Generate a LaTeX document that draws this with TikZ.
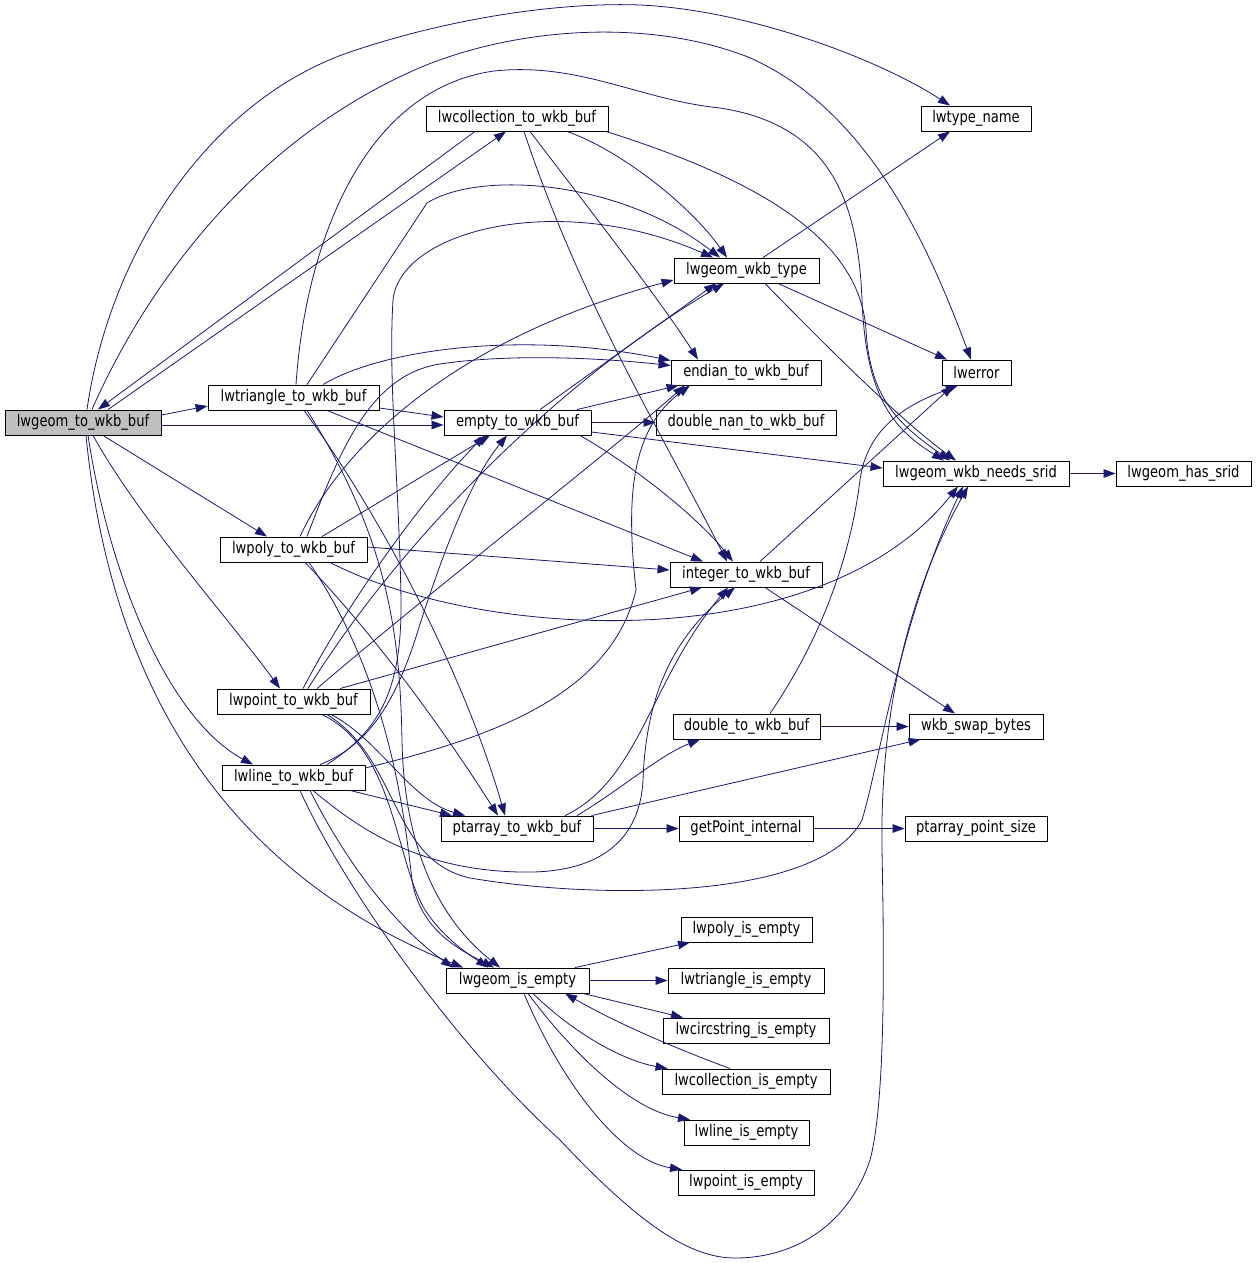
\documentclass[tikz,border=0pt]{standalone}
\usepackage{fontspec}
\usepackage{tikz}
\usepackage{xcolor}
\usetikzlibrary{arrows.meta}
\newfontfamily\graphfont{DejaVu Sans}[FakeStretch=0.82]
\definecolor{edgeblue}{HTML}{191970}
\definecolor{rootgray}{HTML}{BFBFBF}
\tikzset{
    fn-box/.style = {draw=black, fill=white, line width=0.9pt, rectangle, inner sep=0pt, minimum height=25pt, font=\graphfont\fontsize{16}{18}\selectfont},
    fn-box-root/.style = {fn-box, fill=rootgray},
    call/.style = {draw=edgeblue, line width=0.8pt, -{Triangle[length=12pt, width=8.5pt]}},
}
\begin{document}
\begin{tikzpicture}[x=1pt, y=-1pt]
\fill[white] (0,0) rectangle (1257,1263);
\useasboundingbox (0,0) rectangle (1257,1263);
% functions, one column per rank
\node[fn-box-root, minimum width=156pt] (towkb) at (83,422.5) {lwgeom\_to\_wkb\_buf};
\node[fn-box, minimum width=171pt] (tritowkb) at (293.5,397.5) {lwtriangle\_to\_wkb\_buf};
\node[fn-box, minimum width=147pt] (polytowkb) at (293.5,549.5) {lwpoly\_to\_wkb\_buf};
\node[fn-box, minimum width=153pt] (pointtowkb) at (293.5,701.5) {lwpoint\_to\_wkb\_buf};
\node[fn-box, minimum width=143pt] (linetowkb) at (293.5,777.5) {lwline\_to\_wkb\_buf};
\node[fn-box, minimum width=182pt] (colltowkb) at (517,118.5) {lwcollection\_to\_wkb\_buf};
\node[fn-box, minimum width=147pt] (emptytowkb) at (517.5,422.5) {empty\_to\_wkb\_buf};
\node[fn-box, minimum width=152pt] (ptarray) at (517,828.5) {ptarray\_to\_wkb\_buf};
\node[fn-box, minimum width=143pt] (isempty) at (517.5,980.5) {lwgeom\_is\_empty};
\node[fn-box, minimum width=145pt] (wkbtype) at (746.5,270.5) {lwgeom\_wkb\_type};
\node[fn-box, minimum width=150pt] (endian) at (746,372.5) {endian\_to\_wkb\_buf};
\node[fn-box, minimum width=180pt] (dblnan) at (746,422.5) {double\_nan\_to\_wkb\_buf};
\node[fn-box, minimum width=152pt] (inttowkb) at (746,574.5) {integer\_to\_wkb\_buf};
\node[fn-box, minimum width=147pt] (dbltowkb) at (746.5,726.5) {double\_to\_wkb\_buf};
\node[fn-box, minimum width=134pt] (getpoint) at (746,828.5) {getPoint\_internal};
\node[fn-box, minimum width=131pt] (polyempty) at (746.5,929.5) {lwpoly\_is\_empty};
\node[fn-box, minimum width=156pt] (triempty) at (746,980.5) {lwtriangle\_is\_empty};
\node[fn-box, minimum width=166pt] (circempty) at (746,1030.5) {lwcircstring\_is\_empty};
\node[fn-box, minimum width=168pt] (collempty) at (746,1081.5) {lwcollection\_is\_empty};
\node[fn-box, minimum width=125pt] (lineempty) at (746.5,1132.5) {lwline\_is\_empty};
\node[fn-box, minimum width=136pt] (pointempty) at (746,1182.5) {lwpoint\_is\_empty};
\node[fn-box, minimum width=110pt] (typename) at (976,118.5) {lwtype\_name};
\node[fn-box, minimum width=69pt] (lwerr) at (976.5,372.5) {lwerror};
\node[fn-box, minimum width=186pt] (needssrid) at (976,473.5) {lwgeom\_wkb\_needs\_srid};
\node[fn-box, minimum width=134pt] (swapbytes) at (976,726.5) {wkb\_swap\_bytes};
\node[fn-box, minimum width=142pt] (ptsize) at (976,828.5) {ptarray\_point\_size};
\node[fn-box, minimum width=135pt] (hassrid) at (1183.5,473.5) {lwgeom\_has\_srid};

% calls from lwgeom_to_wkb_buf
\draw[call] ([xshift=4pt]towkb.north) .. controls (110,250) and (210,100) .. (350,52) .. controls (450,18) and (560,2) .. (640,5) .. controls (750,10) and (880,60) .. ([xshift=-26pt]typename.north);
\draw[call] ([xshift=9pt]towkb.north) .. controls (140,300) and (240,150) .. (408,73) .. controls (500,30) and (640,15) .. (748,57) .. controls (870,110) and (930,250) .. ([xshift=-5.5pt]lwerr.north);
\draw[call] ([xshift=25pt]towkb.north) -- ([xshift=-11pt]colltowkb.south);
\draw[call] ([xshift=-42pt]colltowkb.south) -- ([xshift=15pt]towkb.north);
\draw[call] ([yshift=7.5pt]towkb.east) -- ([yshift=-8.5pt]tritowkb.west);
\draw[call] ([yshift=-2.5pt]towkb.east) -- ([yshift=-2.5pt]emptytowkb.west);
\draw[call] ([xshift=20pt]towkb.south) -- ([xshift=-26.5pt]polytowkb.north);
\draw[call] ([xshift=10pt]towkb.south) .. controls (140,520) and (230,620) .. ([xshift=-13.5pt]pointtowkb.north);
\draw[call] ([xshift=5pt]towkb.south) .. controls (110,580) and (170,720) .. ([xshift=-40.5pt]linetowkb.north);
\draw[call] ([xshift=3pt]towkb.south) .. controls (110,680) and (220,870) .. ([xshift=-54.5pt]isempty.north);

% lwcollection_to_wkb_buf
\draw[call] ([xshift=50pt]colltowkb.south) .. controls (620,150) and (690,205) .. ([xshift=-19.5pt]wkbtype.north);
\draw[call] ([xshift=13pt]colltowkb.south) .. controls (590,210) and (660,300) .. ([xshift=-48pt]endian.north);
\draw[call] ([xshift=7pt]colltowkb.south) .. controls (580,300) and (660,430) .. ([xshift=-19pt]inttowkb.north);
\draw[call] ([xshift=89pt]colltowkb.south) .. controls (760,180) and (860,240) .. (866,330) .. controls (870,400) and (900,425) .. ([xshift=-26pt]needssrid.north);

% lwtriangle_to_wkb_buf
\draw[call] ([xshift=2.5pt]tritowkb.north) .. controls (305,250) and (360,90) .. (494,71) .. controls (580,62) and (640,100) .. (720,108) .. controls (830,125) and (858,200) .. (862,300) .. controls (866,400) and (895,430) .. ([xshift=-32pt]needssrid.north);
\draw[call] ([xshift=13.5pt]tritowkb.north) -- (427,203) .. controls (480,170) and (620,180) .. ([xshift=-26.5pt]wkbtype.north);
\draw[call] ([xshift=29.5pt]tritowkb.north) .. controls (380,350) and (520,330) .. ([yshift=12pt]endian.west);
\draw[call] ([yshift=-10.5pt]tritowkb.east) -- ([yshift=5.5pt]emptytowkb.west);
\draw[call] ([xshift=33.5pt]tritowkb.south) -- ([xshift=-43pt]inttowkb.north);
\draw[call] ([xshift=10.5pt]tritowkb.south) .. controls (370,500) and (460,660) .. ([xshift=-12pt]ptarray.north);
\draw[call] ([xshift=13.5pt]tritowkb.south) .. controls (390,540) and (400,640) .. (402,740) .. controls (404,850) and (440,920) .. ([xshift=-17.5pt]isempty.north);

% lwpoly_to_wkb_buf
\draw[call] ([xshift=6.5pt]polytowkb.north) .. controls (340,450) and (450,340) .. ([yshift=-9.5pt]wkbtype.west);
\draw[call] ([xshift=13.5pt]polytowkb.north) .. controls (340,450) and (370,375) .. (440,364) .. controls (520,352) and (620,360) .. ([yshift=7pt]endian.west);
\draw[call] ([xshift=28.5pt]polytowkb.north) -- ([xshift=-27.5pt]emptytowkb.south);
\draw[call] ([yshift=2.5pt]polytowkb.east) -- ([yshift=4.5pt]inttowkb.west);
\draw[call] ([xshift=36.5pt]polytowkb.south) .. controls (480,640) and (820,660) .. ([xshift=-18pt]needssrid.south);
\draw[call] ([xshift=11.5pt]polytowkb.south) .. controls (380,640) and (450,740) .. ([xshift=-19pt]ptarray.north);
\draw[call] ([xshift=15.5pt]polytowkb.south) .. controls (390,680) and (405,820) .. (412,880) .. controls (420,930) and (460,950) .. ([xshift=-23.5pt]isempty.north);

% lwpoint_to_wkb_buf
\draw[call] ([xshift=9.5pt]pointtowkb.north) .. controls (360,580) and (440,480) .. ([xshift=-32.5pt]emptytowkb.south);
\draw[call] ([xshift=14.5pt]pointtowkb.north) .. controls (400,540) and (560,380) .. ([xshift=-22.5pt]wkbtype.south);
\draw[call] ([xshift=23.5pt]pointtowkb.north) .. controls (420,600) and (600,460) .. ([xshift=-61pt]endian.south);
\draw[call] ([xshift=46.5pt]pointtowkb.north) -- ([xshift=-44pt]inttowkb.south);
\draw[call] ([xshift=37.5pt]pointtowkb.south) .. controls (380,740) and (410,800) .. ([xshift=-52pt]ptarray.north);
\draw[call] ([xshift=28.5pt]pointtowkb.south) .. controls (395,750) and (395,860) .. (425,910) .. controls (445,940) and (470,955) .. ([xshift=-29.5pt]isempty.north);
\draw[call] ([xshift=33.5pt]pointtowkb.south) .. controls (400,760) and (390,860) .. (470,878) .. controls (600,900) and (820,900) .. (862,820) .. controls (880,760) and (900,620) .. ([xshift=-13pt]needssrid.south);

% lwline_to_wkb_buf
\draw[call] ([xshift=6.5pt]linetowkb.south) .. controls (340,880) and (450,1040) .. (560,1140) .. controls (640,1225) and (690,1258) .. (735,1258) .. controls (800,1258) and (850,1220) .. (870,1160) .. controls (886,1100) and (884,950) .. (882,850) .. controls (880,720) and (905,600) .. ([xshift=-8pt]needssrid.south);
\draw[call] ([xshift=26.5pt]linetowkb.north) .. controls (370,745) and (395,700) .. (415,640) .. controls (440,560) and (470,480) .. ([xshift=-10.5pt]emptytowkb.south);
\draw[call] ([xshift=33.5pt]linetowkb.north) .. controls (380,730) and (402,690) .. (401,600) .. controls (399,480) and (388,380) .. (393,300) .. controls (400,230) and (560,190) .. ([xshift=-33.5pt]wkbtype.north);
\draw[call] ([yshift=9.5pt]linetowkb.east) .. controls (480,740) and (610,700) .. (636,590) .. controls (626,500) and (630,430) .. ([xshift=-56pt]endian.south);
\draw[call] ([xshift=19.5pt]linetowkb.south) .. controls (360,830) and (420,870) .. (520,872) .. controls (600,874) and (640,840) .. (643,780) .. controls (646,700) and (670,640) .. ([xshift=-11pt]inttowkb.south);
\draw[call] ([xshift=56.5pt]linetowkb.south) -- ([xshift=-65pt]ptarray.north);
\draw[call] ([xshift=16.5pt]linetowkb.south) .. controls (350,870) and (400,930) .. ([xshift=-64.5pt]isempty.north);

% empty_to_wkb_buf
\draw[call] (emptytowkb.east) -- (dblnan.west);
\draw[call] ([xshift=59.5pt]emptytowkb.north) -- ([xshift=8pt]endian.south west);
\draw[call] ([xshift=22.5pt]emptytowkb.north) -- ([xshift=-30.5pt]wkbtype.south);
\draw[call] ([yshift=-9.5pt]emptytowkb.east) -- ([yshift=5.5pt]needssrid.west);
\draw[call] ([xshift=62.5pt]emptytowkb.south) .. controls (640,470) and (700,520) .. ([xshift=-13pt]inttowkb.north);

% helpers
\draw[call] ([xshift=16.5pt]wkbtype.north) -- ([xshift=-26pt]typename.south);
\draw[call] ([xshift=31.5pt]wkbtype.south) -- ([xshift=-29.5pt]lwerr.north);
\draw[call] ([xshift=18.5pt]wkbtype.south) .. controls (820,340) and (900,420) .. ([xshift=-20pt]needssrid.north);
\draw[call] (needssrid.east) -- (hassrid.west);
\draw[call] ([xshift=14pt]inttowkb.north) -- ([xshift=-23.5pt]lwerr.south);
\draw[call] ([xshift=19pt]inttowkb.south) -- ([xshift=-21pt]swapbytes.north);
\draw[call] ([xshift=23.5pt]dbltowkb.north) .. controls (820,640) and (850,560) .. (860,480) .. controls (868,420) and (920,400) .. ([xshift=-18.5pt]lwerr.south);
\draw[call] (dbltowkb.east) -- (swapbytes.west);
\draw[call] ([xshift=60pt]ptarray.north) .. controls (620,790) and (660,755) .. ([xshift=-46.5pt]dbltowkb.south);
\draw[call] ([xshift=-2pt]ptarray.north east) -- ([xshift=12pt]swapbytes.south west);
\draw[call] (ptarray.east) -- (getpoint.west);
\draw[call] ([xshift=48pt]ptarray.north) .. controls (640,780) and (650,680) .. ([xshift=-18pt]inttowkb.south);
\draw[call] (getpoint.east) -- (ptsize.west);

% lwgeom_is_empty
\draw[call] ([xshift=57.5pt]isempty.north) -- ([xshift=-56.5pt]polyempty.south);
\draw[call] (isempty.east) -- (triempty.west);
\draw[call] ([xshift=65.5pt]isempty.south) -- ([xshift=-63pt]circempty.north);
\draw[call] ([xshift=15.5pt]isempty.south) .. controls (570,1030) and (620,1060) .. ([xshift=6pt]collempty.north west);
\draw[call] ([xshift=-16pt]collempty.north) .. controls (680,1050) and (620,1025) .. ([xshift=47.5pt]isempty.south);
\draw[call] ([xshift=10.5pt]isempty.south) .. controls (570,1050) and (630,1110) .. ([xshift=-56.5pt]lineempty.north);
\draw[call] ([xshift=6.5pt]isempty.south) .. controls (560,1080) and (620,1160) .. ([xshift=-64pt]pointempty.north);
\end{tikzpicture}
\end{document}
